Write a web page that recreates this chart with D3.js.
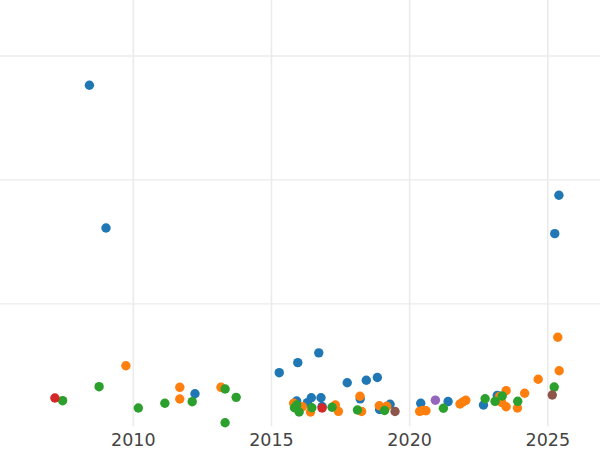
<!DOCTYPE html>
<html>
<head>
<meta charset="utf-8">
<script src="https://cdn.jsdelivr.net/npm/d3@7"></script>
<style>
  html, body { margin: 0; padding: 0; background: #ffffff; }
  svg { display: block; }
</style>
</head>
<body>
<svg id="chart" width="600" height="450"></svg>
<script>
// ---- data (decimal year, value) ----
const xTicks = [2010, 2015, 2020, 2025];
const yTicks = [1, 2, 3];

const blueX = [2008.43, 2009.03, 2012.25, 2015.30, 2015.97, 2016.73, 2017.76, 2018.45, 2018.85, 2015.93, 2016.32, 2016.46, 2016.81, 2016.85, 2018.23, 2018.93, 2019.31, 2020.42, 2021.41, 2022.69, 2023.19, 2025.42, 2025.27];
const blueY = [2.760, 1.608, 0.270, 0.440, 0.521, 0.600, 0.359, 0.379, 0.401, 0.211, 0.198, 0.238, 0.238, 0.167, 0.229, 0.143, 0.185, 0.193, 0.207, 0.179, 0.257, 1.872, 1.562];

const orangeX = [2009.75, 2011.70, 2011.70, 2013.19, 2015.82, 2016.14, 2016.43, 2017.33, 2017.44, 2018.22, 2018.28, 2018.92, 2019.19, 2020.38, 2020.49, 2020.61, 2021.84, 2021.94, 2022.05, 2023.27, 2023.35, 2023.51, 2023.51, 2023.92, 2024.18, 2024.67, 2025.38, 2025.43];
const orangeY = [0.496, 0.322, 0.228, 0.322, 0.193, 0.165, 0.123, 0.179, 0.128, 0.250, 0.127, 0.173, 0.169, 0.128, 0.135, 0.133, 0.187, 0.203, 0.217, 0.248, 0.199, 0.295, 0.165, 0.155, 0.274, 0.387, 0.726, 0.456];

const greenX = [2007.46, 2008.78, 2010.20, 2011.16, 2012.15, 2013.34, 2013.74, 2013.34, 2015.85, 2015.93, 2016.02, 2016.48, 2017.21, 2018.13, 2019.11, 2021.24, 2022.75, 2023.11, 2023.37, 2023.93, 2025.25];
const greenY = [0.214, 0.327, 0.155, 0.193, 0.206, 0.308, 0.241, 0.036, 0.157, 0.179, 0.123, 0.157, 0.161, 0.139, 0.135, 0.153, 0.230, 0.209, 0.252, 0.209, 0.324];

const redX = [2007.18, 2016.85];
const redY = [0.236, 0.155];

const purpleX = [2020.95];
const purpleY = [0.218];

const brownX = [2019.49, 2025.18];
const brownY = [0.127, 0.260];

const seriesList = [
  { xs: blueX,   ys: blueY,   color: "#1f77b4" },
  { xs: orangeX, ys: orangeY, color: "#ff7f0e" },
  { xs: greenX,  ys: greenY,  color: "#2ca02c" },
  { xs: redX,    ys: redY,    color: "#d62728" },
  { xs: purpleX, ys: purpleY, color: "#9467bd" },
  { xs: brownX,  ys: brownY,  color: "#8c564b" }
];

// ---- layout ----
const W = 600, H = 450;
const plotBottom = 427.2;
const svg = d3.select("#chart");

const x = d3.scaleLinear().domain([2005.194, 2026.907]).range([0, W]);
const y = d3.scaleLinear().domain([0, plotBottom / 123.9]).range([plotBottom, 0]);

// horizontal gridlines
const gy = svg.append("g")
  .call(d3.axisLeft(y).tickValues(yTicks).tickSize(-W).tickFormat(""));
gy.select(".domain").remove();
gy.selectAll(".tick line").attr("stroke", "#ebebeb").attr("stroke-width", 1.3);

// vertical gridlines
const gxGrid = svg.append("g")
  .attr("transform", `translate(0,${plotBottom - 1})`)
  .call(d3.axisBottom(x).tickValues(xTicks).tickSize(-(plotBottom - 1)).tickFormat(""));
gxGrid.select(".domain").remove();
gxGrid.selectAll(".tick line").attr("stroke", "#ebebeb").attr("stroke-width", 1.6);

// x tick labels
const gx = svg.append("g")
  .attr("transform", `translate(0,${plotBottom})`)
  .call(d3.axisBottom(x).tickValues(xTicks).tickSize(0).tickPadding(6).tickFormat(d3.format("d")));
gx.select(".domain").remove();
gx.selectAll(".tick text")
  .attr("font-family", "DejaVu Sans")
  .attr("font-size", "17.5px")
  .attr("fill", "#444444");

// points
const pts = svg.append("g");
seriesList.forEach(s => {
  const data = s.xs.map((xv, i) => ({ x: xv, y: s.ys[i] }));
  pts.append("g").selectAll("circle")
    .data(data)
    .join("circle")
    .attr("cx", d => x(d.x))
    .attr("cy", d => y(d.y))
    .attr("r", 4.7)
    .attr("fill", s.color);
});
</script>
</body>
</html>
